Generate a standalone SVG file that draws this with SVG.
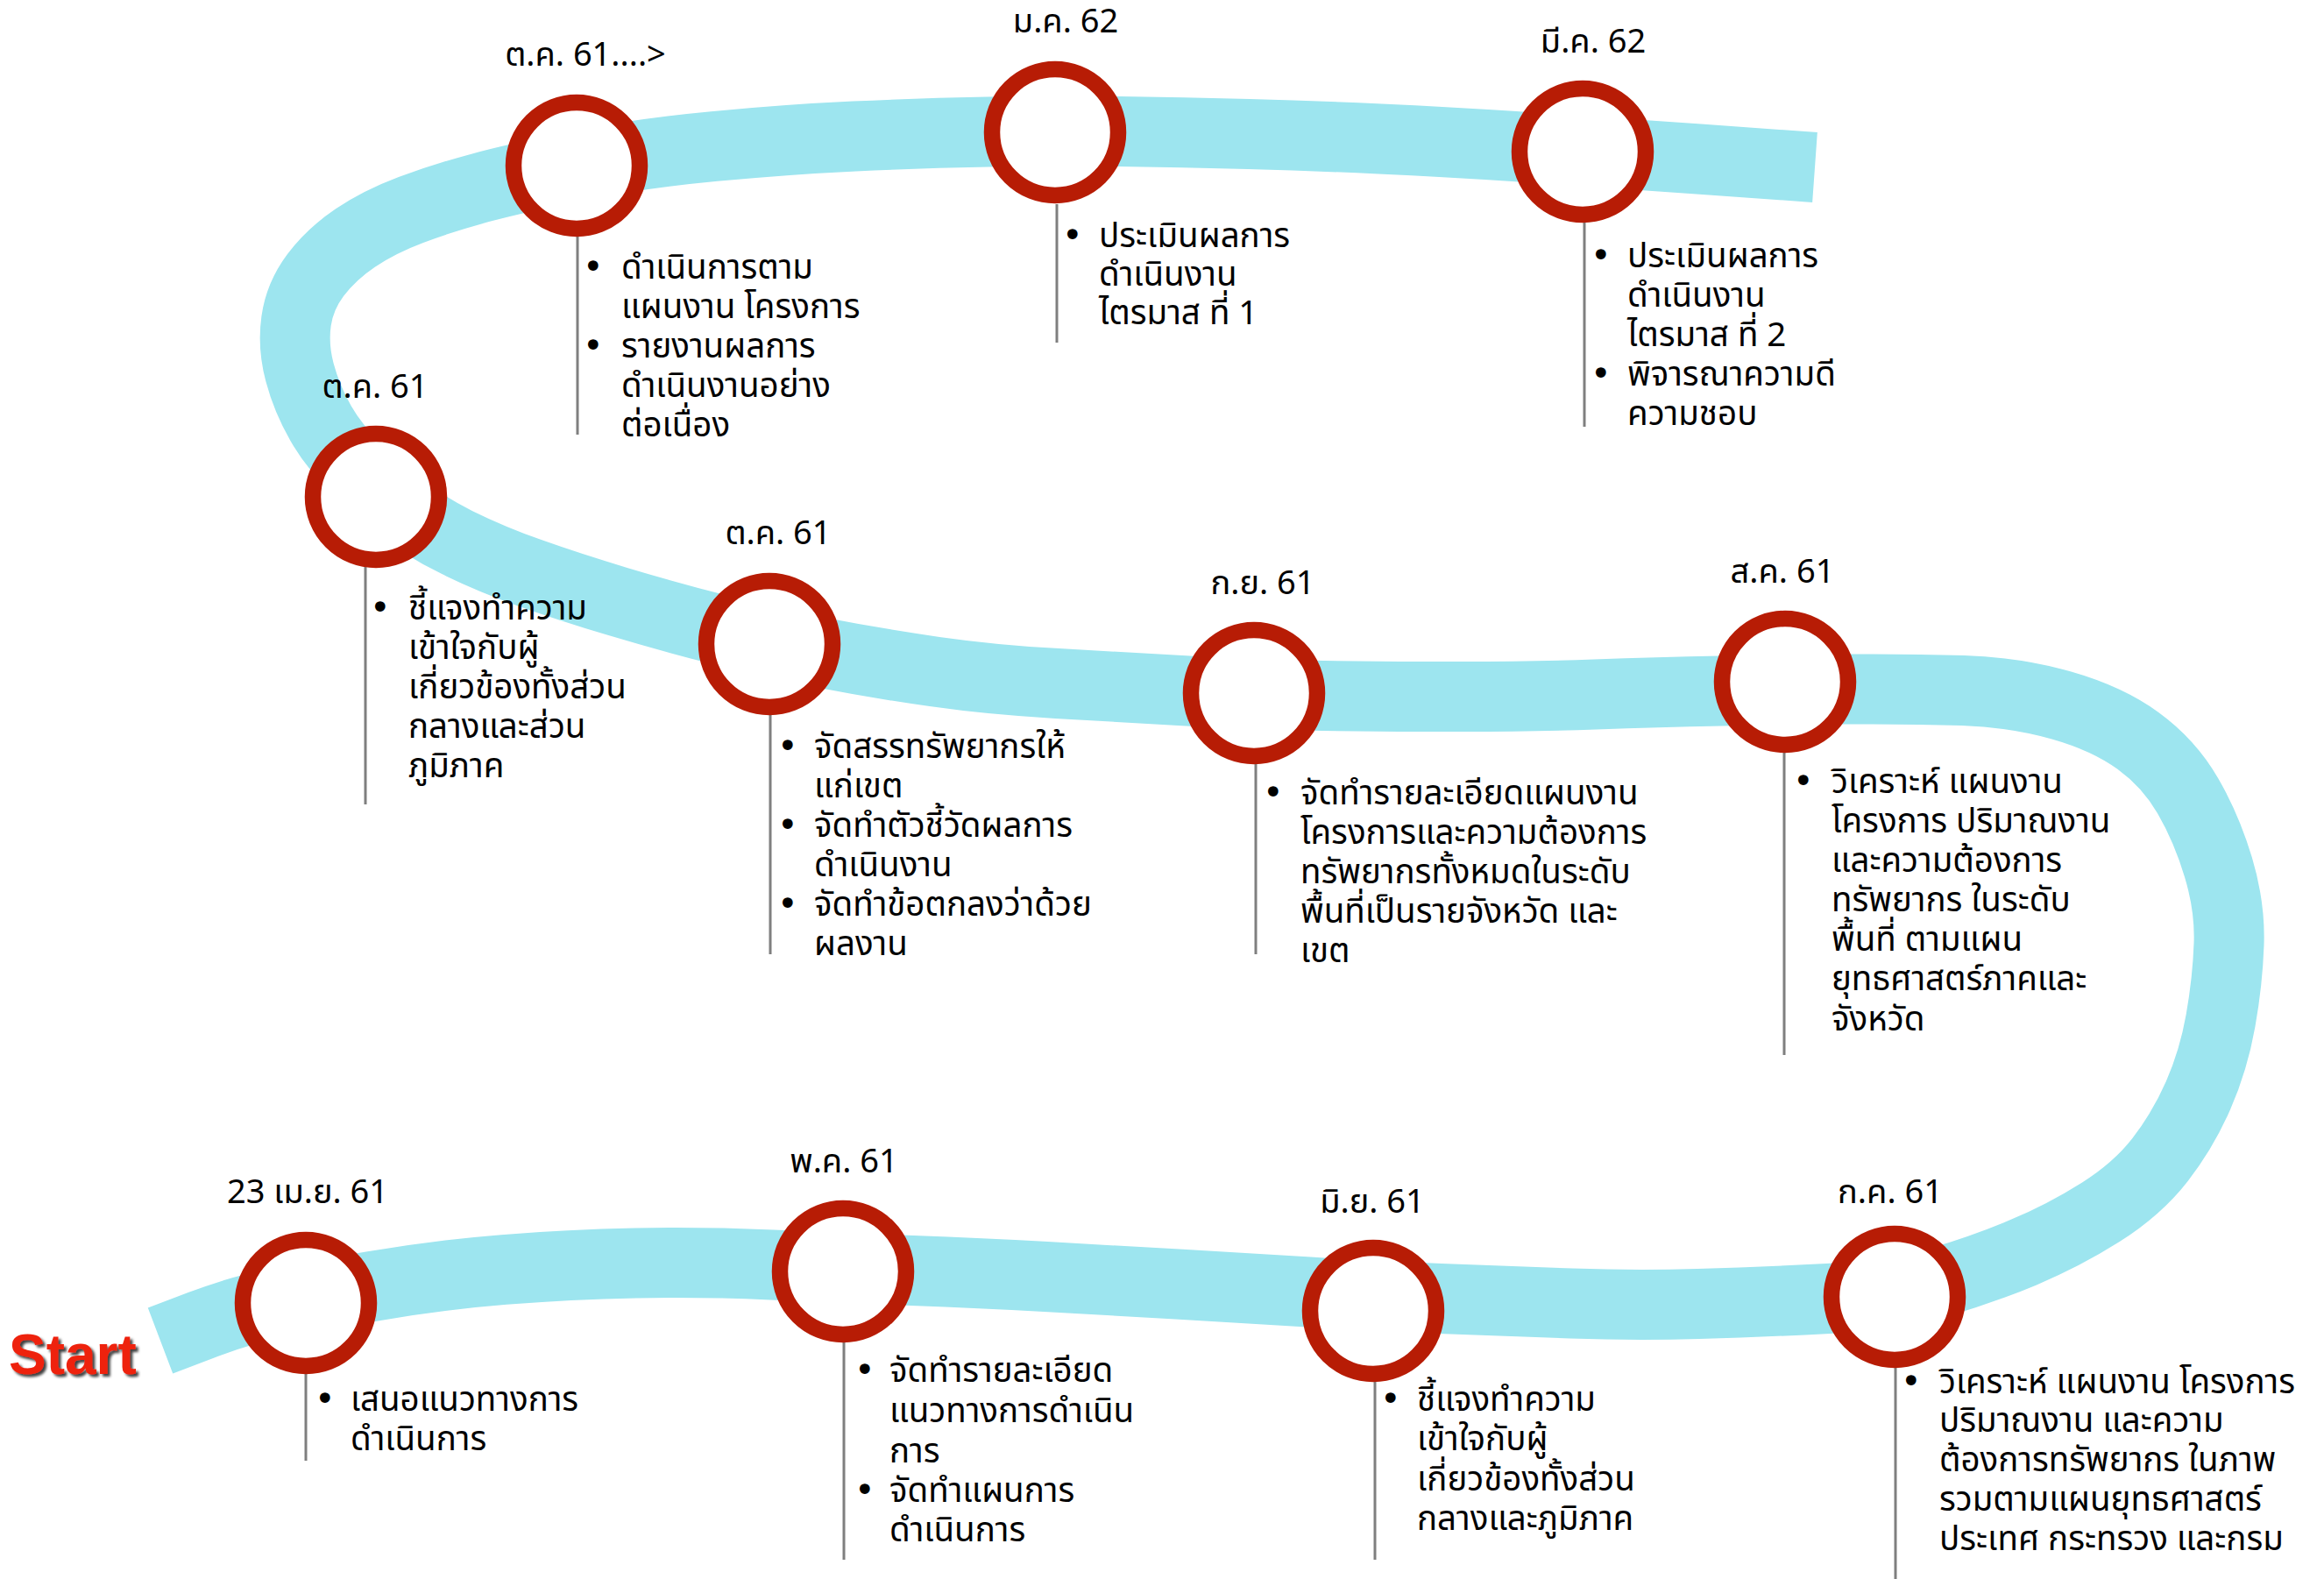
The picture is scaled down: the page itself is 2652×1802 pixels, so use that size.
<svg xmlns="http://www.w3.org/2000/svg" width="2652" height="1802" viewBox="0 0 2652 1802">
<defs>
<style>
.band{fill:none;stroke:#9DE5EF;stroke-width:80;stroke-linecap:butt;stroke-linejoin:round}
.ring{fill:#FFFFFF;stroke:#B71C05;stroke-width:18.5}
.lead{stroke:#7F7F7F;stroke-width:3;fill:none}
.lbl{font-family:'Noto Sans Thai','Leelawadee UI',Tahoma,'DejaVu Sans',sans-serif;font-size:38px;fill:#000;text-anchor:middle}
.txt{font-family:'Noto Sans Thai','Leelawadee UI',Tahoma,'DejaVu Sans',sans-serif;font-size:38.5px;fill:#000}
.bul{font-family:'DejaVu Sans',sans-serif;font-size:40px}
.start{font-family:'Liberation Sans',Arial,sans-serif;font-weight:bold;font-size:64px;fill:#EE2211}
</style>
<filter id="shadow" x="-20%" y="-20%" width="140%" height="140%">
<feDropShadow dx="3" dy="3" stdDeviation="1.5" flood-color="#000" flood-opacity="0.75"/>
</filter>
</defs>
<rect width="2652" height="1802" fill="#FFFFFF"/>
<g id="connectors">
<path class="band" d="M183,1530 L229,1512.5 Q275,1495 312,1488 Q349,1481 424.5,1468 Q500,1455 575,1449 Q650,1443 725,1441.5 Q800,1440 881,1443.5 Q962,1447 1041,1450 Q1120,1453 1193.5,1457 Q1267,1461 1343.5,1465.5 Q1420,1470 1493.5,1474.5 Q1567,1479 1643.5,1482 Q1720,1485 1793,1487.5 Q1866,1490 1938,1488 Q2010,1486 2086,1482 Q2162,1478 2212,1463.5 Q2262,1449 2308.5,1429.5 Q2355,1410 2397,1383.5 Q2439,1357 2465,1323.5 Q2491,1290 2508.5,1250 Q2526,1210 2534,1165 Q2542,1120 2543.5,1077.5 Q2545,1035 2531.5,990 Q2518,945 2496.5,908 Q2475,871 2440,845.5 Q2405,820 2352.5,805 Q2300,790 2240,788 Q2180,786 2108.5,786.5 Q2037,787 1963.5,788.5 Q1890,790 1820,792.5 Q1750,795 1670,795 Q1590,795 1510.5,794 Q1431,793 1355.5,788.5 Q1280,784 1206.5,780 Q1133,776 1066.5,766.5 Q1000,757 938.5,745 Q877,733 818.5,718 Q760,703 705,686.5 Q650,670 605,654 Q560,638 521.5,619 Q483,600 458,579 Q433,558 407.5,534.5 Q382,511 366,483 Q350,455 342,425 Q334,395 338,366.5 Q342,338 360,314 Q378,290 405.5,271.5 Q433,253 469,239.5 Q505,226 547.5,214.5 Q590,203 660,189 Q730,175 815,167 Q900,159 975,155.5 Q1050,152 1127,150.5 Q1204,149 1277,150 Q1350,151 1425,153 Q1500,155 1575,158.5 Q1650,162 1728,167 Q1806,172 1938.5,181.5 L2071,191"/>
<line class="lead" x1="659" y1="270" x2="659" y2="496"/>
<line class="lead" x1="1206" y1="233" x2="1206" y2="391"/>
<line class="lead" x1="1808" y1="254" x2="1808" y2="487"/>
<line class="lead" x1="417" y1="647" x2="417" y2="918"/>
<line class="lead" x1="879" y1="815" x2="879" y2="1089"/>
<line class="lead" x1="1433" y1="872" x2="1433" y2="1089"/>
<line class="lead" x1="2036" y1="858" x2="2036" y2="1204"/>
<line class="lead" x1="349" y1="1567" x2="349" y2="1667"/>
<line class="lead" x1="963" y1="1531" x2="963" y2="1780"/>
<line class="lead" x1="1569" y1="1576" x2="1569" y2="1780"/>
<line class="lead" x1="2163" y1="1560" x2="2163" y2="1802"/>
</g>
<text class="start" x="10" y="1568" filter="url(#shadow)">Start</text>
<g id="n1">
<circle class="ring" cx="658" cy="189" r="72"/>
<text class="lbl" x="668" y="75">ต.ค. 61....&gt;</text>
<text class="txt"><tspan class="bul" x="665" y="318">•</tspan><tspan x="709" y="318">ดำเนินการตาม</tspan><tspan x="709" y="363">แผนงาน โครงการ</tspan><tspan class="bul" x="665" y="408">•</tspan><tspan x="709" y="408">รายงานผลการ</tspan><tspan x="709" y="453">ดำเนินงานอย่าง</tspan><tspan x="709" y="498">ต่อเนื่อง</tspan></text>
</g>
<g id="n2">
<circle class="ring" cx="1204" cy="151" r="72"/>
<text class="lbl" x="1216" y="37">ม.ค. 62</text>
<text class="txt"><tspan class="bul" x="1212" y="282">•</tspan><tspan x="1254" y="282">ประเมินผลการ</tspan><tspan x="1254" y="326">ดำเนินงาน</tspan><tspan x="1254" y="370">ไตรมาส ที่ 1</tspan></text>
</g>
<g id="n3">
<circle class="ring" cx="1806" cy="173" r="72"/>
<text class="lbl" x="1818" y="60">มี.ค. 62</text>
<text class="txt"><tspan class="bul" x="1815" y="305">•</tspan><tspan x="1857" y="305">ประเมินผลการ</tspan><tspan x="1857" y="350">ดำเนินงาน</tspan><tspan x="1857" y="395">ไตรมาส ที่ 2</tspan><tspan class="bul" x="1815" y="440">•</tspan><tspan x="1857" y="440">พิจารณาความดี</tspan><tspan x="1857" y="485">ความชอบ</tspan></text>
</g>
<g id="n4">
<circle class="ring" cx="429" cy="567" r="72"/>
<text class="lbl" x="428" y="454">ต.ค. 61</text>
<text class="txt"><tspan class="bul" x="422" y="707">•</tspan><tspan x="466" y="707">ชี้แจงทำความ</tspan><tspan x="466" y="752">เข้าใจกับผู้</tspan><tspan x="466" y="797">เกี่ยวข้องทั้งส่วน</tspan><tspan x="466" y="842">กลางและส่วน</tspan><tspan x="466" y="887">ภูมิภาค</tspan></text>
</g>
<g id="n5">
<circle class="ring" cx="878" cy="735" r="72"/>
<text class="lbl" x="888" y="621">ต.ค. 61</text>
<text class="txt"><tspan class="bul" x="887" y="865">•</tspan><tspan x="929" y="865">จัดสรรทรัพยากรให้</tspan><tspan x="929" y="910">แก่เขต</tspan><tspan class="bul" x="887" y="955">•</tspan><tspan x="929" y="955">จัดทำตัวชี้วัดผลการ</tspan><tspan x="929" y="1000">ดำเนินงาน</tspan><tspan class="bul" x="887" y="1045">•</tspan><tspan x="929" y="1045">จัดทำข้อตกลงว่าด้วย</tspan><tspan x="929" y="1090">ผลงาน</tspan></text>
</g>
<g id="n6">
<circle class="ring" cx="1431" cy="791" r="72"/>
<text class="lbl" x="1441" y="678">ก.ย. 61</text>
<text class="txt"><tspan class="bul" x="1441" y="918">•</tspan><tspan x="1484" y="918">จัดทำรายละเอียดแผนงาน</tspan><tspan x="1484" y="963">โครงการและความต้องการ</tspan><tspan x="1484" y="1008">ทรัพยากรทั้งหมดในระดับ</tspan><tspan x="1484" y="1053">พื้นที่เป็นรายจังหวัด และ</tspan><tspan x="1484" y="1098">เขต</tspan></text>
</g>
<g id="n7">
<circle class="ring" cx="2037" cy="778" r="72"/>
<text class="lbl" x="2034" y="665">ส.ค. 61</text>
<text class="txt"><tspan class="bul" x="2046" y="905">•</tspan><tspan x="2090" y="905">วิเคราะห์ แผนงาน</tspan><tspan x="2090" y="950">โครงการ ปริมาณงาน</tspan><tspan x="2090" y="995">และความต้องการ</tspan><tspan x="2090" y="1040">ทรัพยากร ในระดับ</tspan><tspan x="2090" y="1085">พื้นที่ ตามแผน</tspan><tspan x="2090" y="1130">ยุทธศาสตร์ภาคและ</tspan><tspan x="2090" y="1176">จังหวัด</tspan></text>
</g>
<g id="n8">
<circle class="ring" cx="349" cy="1487" r="72"/>
<text class="lbl" x="351" y="1373">23 เม.ย. 61</text>
<text class="txt"><tspan class="bul" x="359" y="1610">•</tspan><tspan x="400" y="1610">เสนอแนวทางการ</tspan><tspan x="400" y="1655">ดำเนินการ</tspan></text>
</g>
<g id="n9">
<circle class="ring" cx="962" cy="1451" r="72"/>
<text class="lbl" x="963" y="1338">พ.ค. 61</text>
<text class="txt"><tspan class="bul" x="975" y="1577">•</tspan><tspan x="1015" y="1577">จัดทำรายละเอียด</tspan><tspan x="1015" y="1623">แนวทางการดำเนิน</tspan><tspan x="1015" y="1669">การ</tspan><tspan class="bul" x="975" y="1714">•</tspan><tspan x="1015" y="1714">จัดทำแผนการ</tspan><tspan x="1015" y="1759">ดำเนินการ</tspan></text>
</g>
<g id="n10">
<circle class="ring" cx="1567" cy="1496" r="72"/>
<text class="lbl" x="1566" y="1384">มิ.ย. 61</text>
<text class="txt"><tspan class="bul" x="1575" y="1610">•</tspan><tspan x="1617" y="1610">ชี้แจงทำความ</tspan><tspan x="1617" y="1655">เข้าใจกับผู้</tspan><tspan x="1617" y="1701">เกี่ยวข้องทั้งส่วน</tspan><tspan x="1617" y="1746">กลางและภูมิภาค</tspan></text>
</g>
<g id="n11">
<circle class="ring" cx="2162" cy="1480" r="72"/>
<text class="lbl" x="2157" y="1373">ก.ค. 61</text>
<text class="txt"><tspan class="bul" x="2169" y="1590">•</tspan><tspan x="2213" y="1590">วิเคราะห์ แผนงาน โครงการ</tspan><tspan x="2213" y="1634">ปริมาณงาน และความ</tspan><tspan x="2213" y="1679">ต้องการทรัพยากร ในภาพ</tspan><tspan x="2213" y="1724">รวมตามแผนยุทธศาสตร์</tspan><tspan x="2213" y="1769">ประเทศ กระทรวง และกรม</tspan></text>
</g>
</svg>
